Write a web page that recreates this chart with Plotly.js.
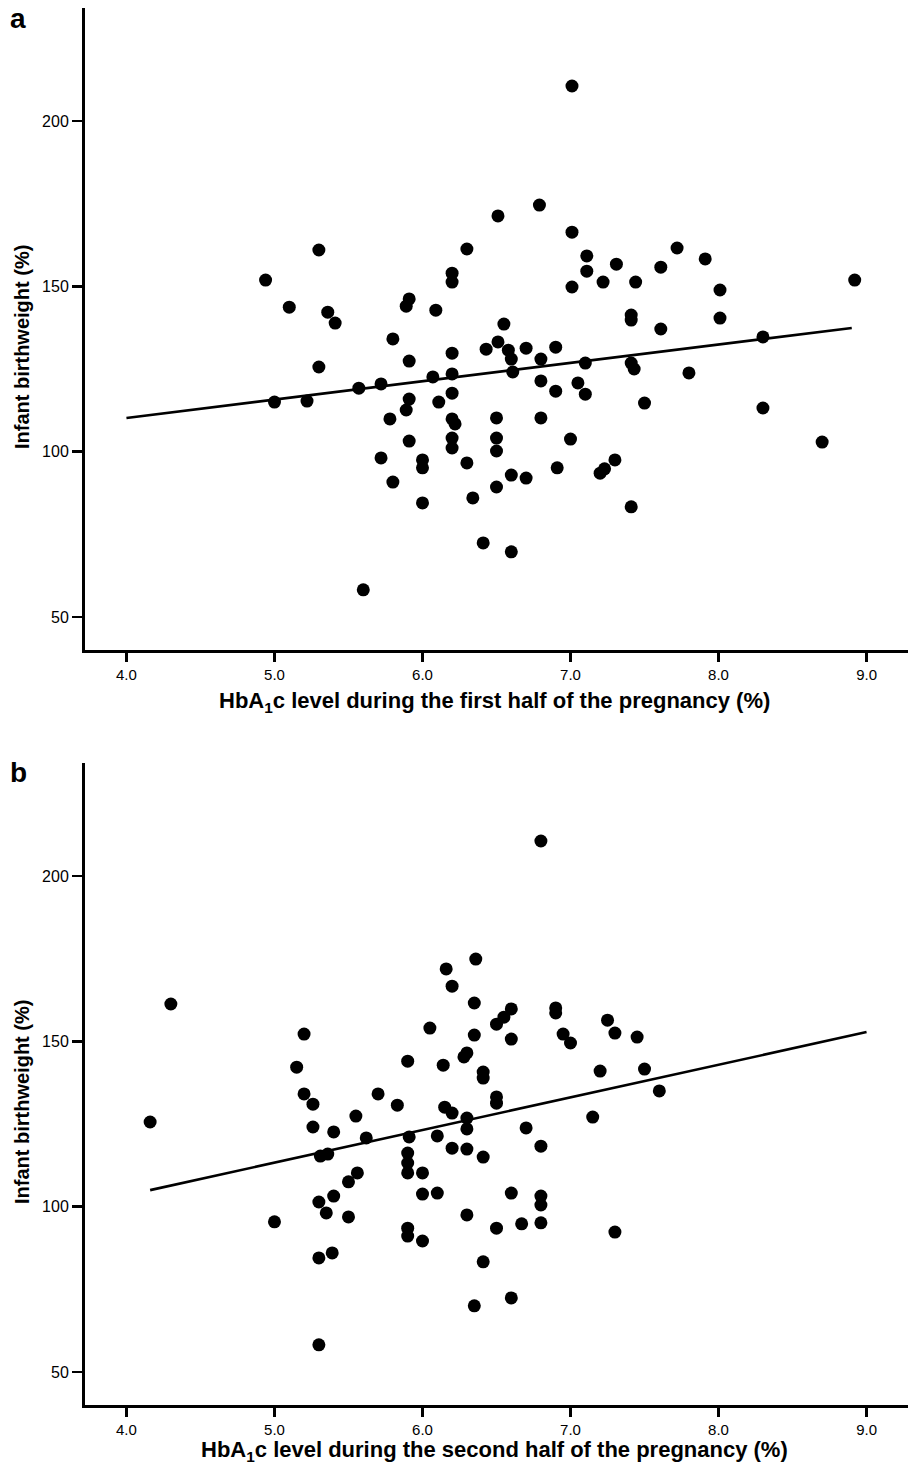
<!DOCTYPE html>
<html>
<head>
<meta charset="utf-8">
<script src="https://cdn.plot.ly/plotly-3.0.1.min.js"></script>
<style>html,body{margin:0;padding:0;background:#fff;}#chart{width:908px;height:1467px;}</style>
</head>
<body>
<div id="chart"></div>
<script>
// Panel a: HbA1c first half vs infant birthweight
const aX = [7.01,6.79,6.51,7.01,5.30,6.30,7.11,7.72,7.91,7.31,7.11,7.61,6.20,6.20,4.94,7.01,7.22,7.44,8.92,8.01,5.10,5.91,5.89,6.09,5.36,5.41,7.41,7.41,8.01,6.55,7.61,5.80,8.30,6.51,6.43,6.70,6.90,6.58,6.20,6.60,6.80,5.91,7.10,7.41,7.43,5.30,6.61,7.80,6.20,6.07,6.80,5.72,7.05,5.57,6.90,7.10,6.20,5.00,5.22,5.91,6.11,7.50,8.30,5.89,5.78,6.20,6.22,6.50,6.80,6.20,6.50,5.91,7.00,8.70,6.20,6.50,5.72,6.00,6.30,7.30,6.00,6.91,7.23,7.20,6.60,6.70,5.80,6.50,6.34,6.00,7.41,6.41,6.60,5.60];
const aY = [210.6,174.6,171.3,166.4,161.0,161.3,159.2,161.6,158.3,156.7,154.6,155.8,154.0,151.3,151.9,149.8,151.3,151.3,151.9,148.9,143.7,146.2,144.0,142.8,142.2,138.9,141.3,139.8,140.4,138.6,137.1,134.1,134.7,133.2,131.0,131.3,131.6,130.7,129.8,128.0,128.0,127.4,126.8,126.8,125.0,125.6,124.1,123.8,123.5,122.6,121.4,120.5,120.8,119.2,118.3,117.4,117.7,115.0,115.3,115.9,115.0,114.7,113.2,112.6,109.9,109.9,108.4,110.2,110.2,104.1,104.1,103.2,103.8,102.9,101.1,100.2,98.1,97.5,96.6,97.5,95.1,95.1,94.8,93.5,92.9,92.0,90.8,89.3,86.0,84.5,83.3,72.4,69.7,58.2];
const fitAX = [4.0, 8.9];
const fitAY = [110.2, 137.4];

// Panel b: HbA1c second half vs infant birthweight
const bX = [4.30,4.16,5.20,5.15,5.20,5.26,5.26,5.40,5.31,5.36,5.55,5.62,5.70,5.83,5.90,5.91,5.90,5.90,5.90,6.00,5.56,5.50,5.40,5.30,5.35,5.50,5.00,6.00,5.90,5.90,6.00,5.30,5.39,5.30,6.80,6.36,6.16,6.20,6.35,6.60,6.55,6.50,6.90,6.90,7.25,7.30,7.45,6.95,7.00,6.05,6.35,6.60,6.30,6.28,6.14,6.41,6.41,7.20,7.50,7.60,6.50,6.50,7.15,6.15,6.20,6.30,6.30,6.70,6.10,6.20,6.30,6.41,6.80,6.10,6.60,6.80,6.80,6.30,6.50,6.67,6.80,7.30,6.41,6.60,6.35];
const bY = [161.3,125.6,152.2,142.2,134.1,131.0,124.1,122.6,115.3,115.9,127.4,120.8,134.1,130.7,144.0,121.1,116.2,113.2,110.2,110.2,110.2,107.5,103.2,101.4,98.1,96.9,95.4,103.8,93.5,91.1,89.6,84.5,86.0,58.2,210.6,174.9,171.9,166.7,161.6,159.8,157.3,155.2,160.1,158.6,156.4,152.5,151.3,152.2,149.5,154.0,151.9,150.7,146.5,145.3,142.8,140.7,138.9,141.0,141.6,135.0,133.2,131.3,127.1,130.1,128.3,126.8,123.5,123.8,121.4,117.7,117.4,115.0,118.3,104.1,104.1,103.2,100.5,97.5,93.5,94.8,95.1,92.3,83.3,72.4,70.0];
const fitBX = [4.16, 9.0];
const fitBY = [105.0, 152.8];

const xTickVals = [4, 5, 6, 7, 8, 9];
const xTickText = ['4.0', '5.0', '6.0', '7.0', '8.0', '9.0'];
const yTickVals = [50, 100, 150, 200];

const FONT = 'Liberation Sans, Arial, sans-serif';
const marker = {color: '#000', size: 13, line: {width: 0}};

const traces = [
  {x: aX, y: aY, type: 'scatter', mode: 'markers', marker: marker, xaxis: 'x', yaxis: 'y', hoverinfo: 'x+y'},
  {x: fitAX, y: fitAY, type: 'scatter', mode: 'lines', line: {color: '#000', width: 2.6}, xaxis: 'x', yaxis: 'y'},
  {x: bX, y: bY, type: 'scatter', mode: 'markers', marker: marker, xaxis: 'x2', yaxis: 'y2', hoverinfo: 'x+y'},
  {x: fitBX, y: fitBY, type: 'scatter', mode: 'lines', line: {color: '#000', width: 2.6}, xaxis: 'x2', yaxis: 'y2'}
];

function xAxis(domainAnchor) {
  return {
    domain: [0, 1], anchor: domainAnchor,
    range: [3.72, 9.28], showgrid: false, zeroline: false,
    showline: true, linecolor: '#000', linewidth: 3,
    ticks: 'outside', ticklen: 9, tickwidth: 2.5, tickcolor: '#000',
    tickvals: xTickVals, ticktext: xTickText,
    tickfont: {family: FONT, size: 15, color: '#000'}
  };
}
function yAxis(domain, anchor) {
  return {
    domain: domain, anchor: anchor,
    range: [40, 234.2], showgrid: false, zeroline: false,
    showline: true, linecolor: '#000', linewidth: 3,
    ticks: 'outside', ticklen: 10, tickwidth: 2.5, tickcolor: '#000',
    tickvals: yTickVals,
    tickfont: {family: FONT, size: 16, color: '#000'}
  };
}

const titleFont = {family: FONT, size: 22, color: '#000'};
const yTitleFont = {family: FONT, size: 20, color: '#000'};

const layout = {
  width: 908, height: 1467,
  margin: {l: 85, r: 0, t: 8, b: 62},
  paper_bgcolor: '#fff', plot_bgcolor: '#fff',
  showlegend: false,
  font: {family: FONT, color: '#000'},
  xaxis: xAxis('y'),
  yaxis: yAxis([0.54044, 1], 'x'),
  xaxis2: xAxis('y2'),
  yaxis2: yAxis([0, 0.45956], 'x2'),
  annotations: [
    {text: '<b>a</b>', xref: 'paper', yref: 'paper', x: -0.094, y: 1.0, xanchor: 'left', yanchor: 'middle', yshift: -10, showarrow: false, font: {family: FONT, size: 28, color: '#000'}},
    {text: '<b>b</b>', xref: 'paper', yref: 'paper', x: -0.094, y: 0.45956, xanchor: 'left', yanchor: 'middle', yshift: -10, showarrow: false, font: {family: FONT, size: 28, color: '#000'}},
    {text: '<b>HbA<sub>1</sub>c level during the first half of the pregnancy (%)</b>', xref: 'paper', yref: 'paper', x: 0.498, y: 0.54044, yshift: -52, xanchor: 'center', yanchor: 'middle', showarrow: false, font: titleFont},
    {text: '<b>HbA<sub>1</sub>c level during the second half of the pregnancy (%)</b>', xref: 'paper', yref: 'paper', x: 0.498, y: 0, yshift: -46, xanchor: 'center', yanchor: 'middle', showarrow: false, font: titleFont},
    {text: '<b>Infant birthweight (%)</b>', xref: 'paper', yref: 'paper', x: 0, xshift: -63, y: 0.7573, textangle: -90, xanchor: 'center', yanchor: 'middle', showarrow: false, font: yTitleFont},
    {text: '<b>Infant birthweight (%)</b>', xref: 'paper', yref: 'paper', x: 0, xshift: -63, y: 0.2169, textangle: -90, xanchor: 'center', yanchor: 'middle', showarrow: false, font: yTitleFont}
  ]
};

Plotly.newPlot('chart', traces, layout, {staticPlot: true, displayModeBar: false});
</script>
</body>
</html>
